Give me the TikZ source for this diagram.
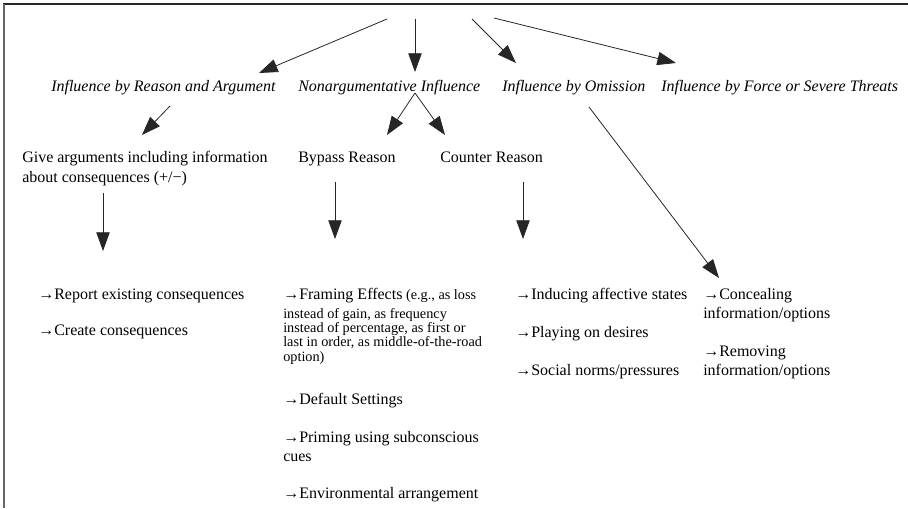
\documentclass[tikz,border=0pt]{standalone}
\usepackage{fontspec}
\setmainfont{Liberation Serif}
\usetikzlibrary{arrows.meta,calc}

\begin{document}
\begin{tikzpicture}[x=0.75pt,y=-0.75pt,
  cat/.style={anchor=base west,inner sep=0pt,font=\fontsize{12}{15}\selectfont\itshape},
  item/.style={anchor=base west,inner sep=0pt,align=left,font=\fontsize{12}{15}\selectfont},
  itemtight/.style={item,font=\fontsize{12}{14.25}\selectfont},
  itemsmall/.style={item,font=\fontsize{10.7}{10.75}\selectfont},
  arr/.style={-{Triangle[length=14pt,width=10pt]},black!85,line width=0.6pt}]
  \useasboundingbox (0,0) rectangle (908,508);
  % frame
  \draw[black!85,line width=1.1pt] (3,4) -- (908,4);
  \draw[black!60,line width=2.2pt] (4,4) -- (4,508);
  % free starts of the top arrows
  \coordinate (srcA) at (387,19);
  \coordinate (srcB) at (415,19);
  \coordinate (srcC) at (472,19);
  \coordinate (srcD) at (494,18);
  % kinds of influence
  \node[cat] (reason) at (51,91) {Influence by Reason and Argument};
  \node[cat] (nonarg) at (298,91) {Nonargumentative Influence};
  \node[cat] (omission) at (502,91) {Influence by Omission};
  \node[cat] (force) at (661,91) {Influence by Force or Severe Threats};
  % second level (multi-line nodes sit on their last line)
  \node[item] (give) at (22,182) {Give arguments including information\\about consequences (+/−)};
  \node[item] (bypass) at (298,162) {Bypass Reason};
  \node[item] (counter) at (440,162) {Counter Reason};
  % techniques
  \node[item] (report) at (38,299) {→Report existing consequences};
  \node[item] (create) at (38,335) {→Create consequences};
  \node[itemsmall] (framing) at (283,361) {{\fontsize{12}{14}\selectfont →Framing Effects} (e.g., as loss\\[2.8pt]
    instead of gain, as frequency\\instead of percentage, as first or\\last in order, as middle-of-the-road\\option)};
  \node[item] (default) at (283,404) {→Default Settings};
  \node[itemtight] (priming) at (283,461) {→Priming using subconscious\\cues};
  \node[item] (environ) at (283,498) {→Environmental arrangement};
  \node[item] (inducing) at (515,299) {→Inducing affective states};
  \node[item] (playing) at (515,337) {→Playing on desires};
  \node[item] (social) at (515,375) {→Social norms/pressures};
  \node[itemtight] (conceal) at (703,318) {→Concealing\\information/options};
  \node[itemtight] (removing) at (703,375) {→Removing\\information/options};
  % connectors
  \draw[arr] (srcA) -- ($(reason.base west)+(208,-18)$);
  \draw[arr] (srcB) -- ($(nonarg.base west)+(117,-19)$);
  \draw[arr] (srcC) -- ($(omission.base west)+(14,-28)$);
  \draw[arr] (srcD) -- ($(force.base west)+(15,-28)$);
  \draw[arr] ($(reason.base west)+(119,15)$) -- ($(give.base west)+(120,-47)$);
  \draw[arr] ($(nonarg.base west)+(117,2)$) -- ($(bypass.base west)+(89,-27)$);
  \draw[arr] ($(nonarg.base west)+(117,2)$) -- ($(counter.base west)+(5,-27)$);
  \draw[arr] ($(omission.base west)+(87,16)$) -- ($(conceal.base west)+(16,-40)$);
  \draw[arr] ($(give.base west)+(81,11)$) -- ($(report.base west)+(65,-48)$);
  \draw[arr] ($(bypass.base west)+(37,20)$) -- ($(framing.base west)+(52,-122)$);
  \draw[arr] ($(counter.base west)+(83,20)$) -- ($(inducing.base west)+(8,-60)$);
\end{tikzpicture}
\end{document}
